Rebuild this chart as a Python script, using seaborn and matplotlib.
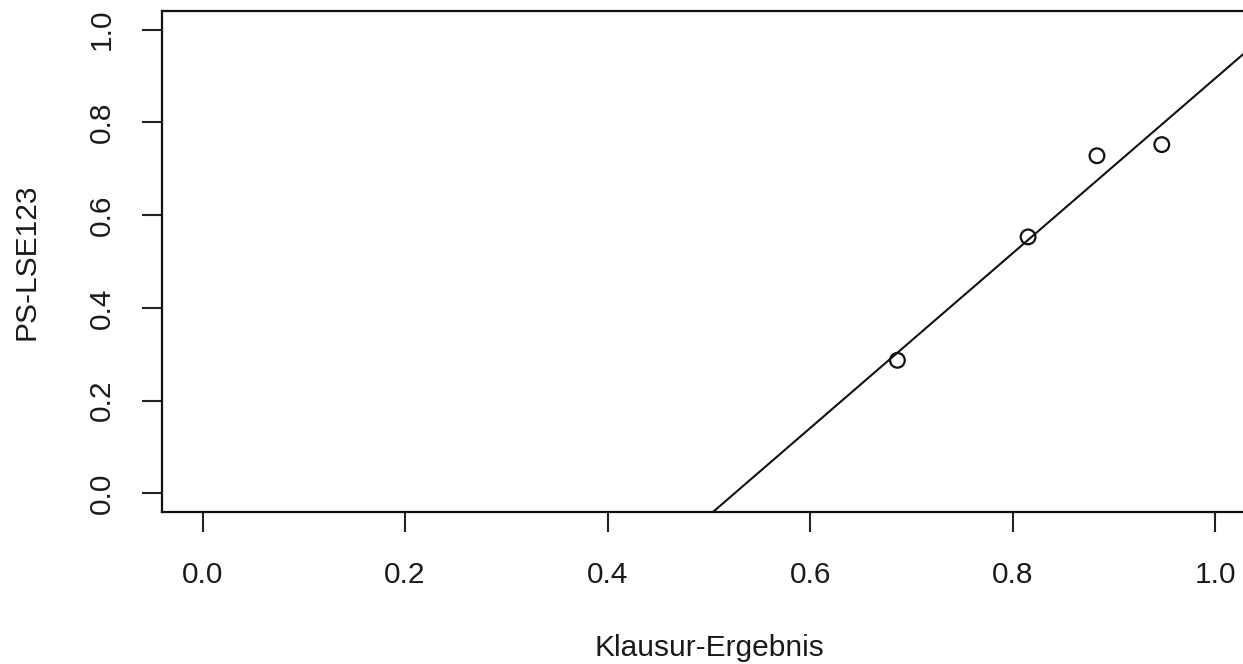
import numpy as np
import pandas as pd
import matplotlib
matplotlib.use("Agg")
import matplotlib.pyplot as plt
import seaborn as sns

# Exam result vs. PS-LSE123 share
klausur = [0.686, 0.815, 0.883, 0.947]
ps_lse123 = [0.287, 0.553, 0.728, 0.752]
x_ticks = [0.0, 0.2, 0.4, 0.6, 0.8, 1.0]
y_ticks = [0.0, 0.2, 0.4, 0.6, 0.8, 1.0]
x_label = "Klausur-Ergebnis"
y_label = "PS-LSE123"

df = pd.DataFrame({"x": klausur, "y": ps_lse123})

sns.set_theme(style="white")
plt.rcParams["font.family"] = ["Liberation Sans", "DejaVu Sans"]

W, H = 1243, 664
fig = plt.figure(figsize=(W / 100, H / 100), dpi=100)
left, right, top, bottom = 162, 1256, 11, 512
ax = fig.add_axes([left / W, 1 - bottom / H, (right - left) / W, (bottom - top) / H])

ax.set_xlim(-0.04, 1.04)
ax.set_ylim(-0.04, 1.04)

sns.scatterplot(data=df, x="x", y="y", ax=ax, marker="o", s=112,
                facecolor="none", edgecolor="#111111", linewidth=1.6,
                zorder=3)
sns.regplot(data=df, x="x", y="y", ax=ax, scatter=False, ci=None,
            truncate=False, line_kws={"color": "#111111", "linewidth": 1.5})

ax.set_xlim(-0.04, 1.04)
ax.set_ylim(-0.04, 1.04)

ax.set_xticks(x_ticks)
ax.set_yticks(y_ticks)
ax.set_xticklabels([f"{v:.1f}" for v in x_ticks])
ax.set_yticklabels([f"{v:.1f}" for v in y_ticks])

for s in ax.spines.values():
    s.set_color("#111111")
    s.set_linewidth(1.6)

ax.tick_params(axis="both", which="major", direction="out", length=14.5,
               width=1.5, color="#222222", labelsize=21.5,
               labelcolor="#1a1a1a", pad=21, bottom=True, left=True)
ax.tick_params(axis="y", labelrotation=90, pad=19)
for lab in ax.get_yticklabels():
    lab.set_va("center")

ax.set_xlabel(x_label, fontsize=21.5, color="#1a1a1a")
ax.set_ylabel(y_label, fontsize=21.5, color="#1a1a1a")
ax.xaxis.set_label_coords(0.5, -(648 - bottom) / (bottom - top))
ax.xaxis.label.set_va("center")
ax.yaxis.set_label_coords(-(left - 27) / (right - left), 0.5)
ax.yaxis.label.set_va("center")

fig.savefig("out.png", dpi=100, facecolor="white")
